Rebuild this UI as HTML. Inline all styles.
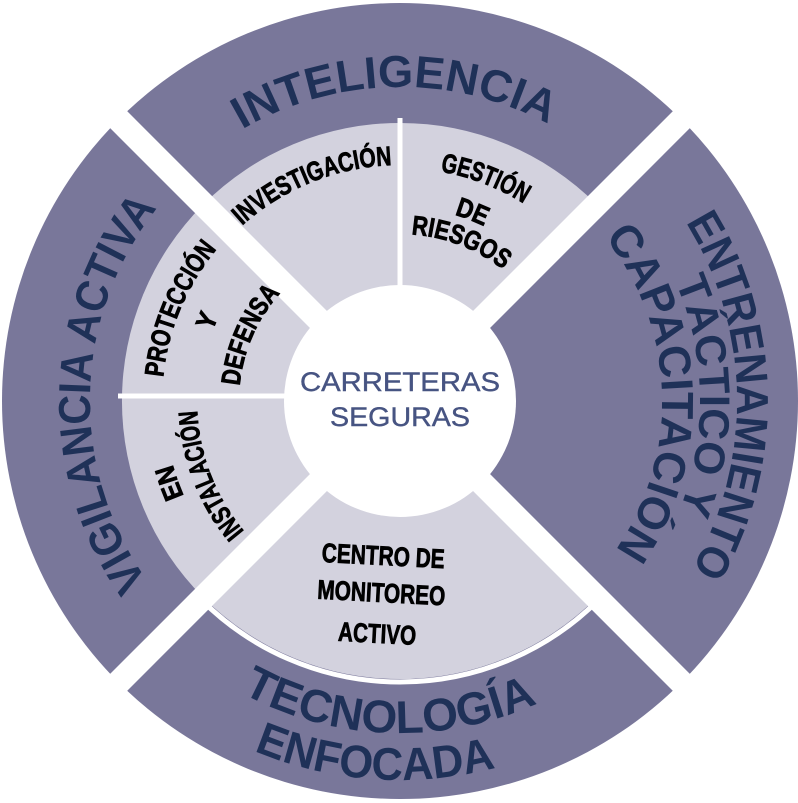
<!DOCTYPE html>
<html><head><meta charset="utf-8"><style>
html,body{margin:0;padding:0;background:#fff;}
svg{display:block;}
.o{font-family:"Liberation Sans",sans-serif;font-weight:bold;fill:#1f3158;font-size:45px;}
.i{font-family:"Liberation Sans",sans-serif;font-weight:bold;fill:#000;font-size:27px;stroke:#000;stroke-width:0.8;}
</style></head><body>
<svg width="798" height="803" viewBox="0 0 798 803" xmlns="http://www.w3.org/2000/svg">
<defs>
<path id="t314" d="M86,401 A314,314 0 0 1 714,401"/>
<path id="t310" d="M90,401 A310,310 0 0 1 710,401"/>
<path id="t337" d="M63,401 A337,337 0 0 1 737,401"/>
<path id="t300" d="M100,401 A300,300 0 0 1 700,401"/>
<path id="t262" d="M138,401 A262,262 0 0 1 662,401"/>
<path id="t236" d="M164,401 A236,236 0 0 1 636,401"/>
<path id="t233" d="M167,401 A233,233 0 0 1 633,401"/>
<path id="t194" d="M206,401 A194,194 0 0 1 594,401"/>
<path id="t167" d="M233,401 A167,167 0 0 1 567,401"/>
<path id="t238" d="M162,401 A238,238 0 0 1 638,401"/>
<path id="t200" d="M200,401 A200,200 0 0 1 600,401"/>
<path id="t161" d="M239,401 A161,161 0 0 1 561,401"/>
<path id="t203" d="M197,401 A203,203 0 0 1 603,401"/>
<path id="b332" d="M68,401 A332,332 0 0 0 732,401"/>
<path id="b379" d="M21,401 A379,379 0 0 0 779,401"/>
</defs>
<circle cx="400" cy="401" r="398" fill="#79779a"/>
<path d="M400,401 L203.4,204.4 A278,278 0 0 1 596.6,204.4 Z" fill="#d3d2de"/>
<path d="M400,401 L203.4,597.6 A278,278 0 0 1 203.4,204.4 Z" fill="#d3d2de"/>
<path d="M400,401 L596.6,597.6 A278,278 0 0 1 203.4,597.6 Z" fill="#d3d2de"/>
<path d="M598.7,599.7 A281,281 0 0 1 201.3,599.7" fill="none" stroke="#fff" stroke-width="5"/>
<line x1="400" y1="401" x2="400" y2="118" stroke="#fff" stroke-width="5"/>
<line x1="400" y1="396" x2="118" y2="396" stroke="#fff" stroke-width="5"/>
<line x1="100" y1="101" x2="700" y2="701" stroke="#fff" stroke-width="24"/>
<line x1="700" y1="101" x2="100" y2="701" stroke="#fff" stroke-width="24"/>
<circle cx="400" cy="401" r="116" fill="#fff"/>
<g transform="rotate(-1 400 401)"><text class="o"><textPath href="#t314" startOffset="50%" text-anchor="middle" textLength="320" lengthAdjust="spacingAndGlyphs">INTELIGENCIA</textPath></text></g>
<g transform="rotate(271.5 400 401)"><text class="o"><textPath href="#t310" startOffset="50%" text-anchor="middle" textLength="400" lengthAdjust="spacingAndGlyphs">VIGILANCIA ACTIVA</textPath></text></g>
<g transform="rotate(89 400 401)"><text class="o"><textPath href="#t337" startOffset="50%" text-anchor="middle" textLength="365" lengthAdjust="spacingAndGlyphs">ENTRENAMIENTO</textPath></text></g>
<g transform="rotate(89 400 401)"><text class="o" style="font-size:43px"><textPath href="#t300" startOffset="50%" text-anchor="middle" textLength="236" lengthAdjust="spacingAndGlyphs">TÁCTICO Y</textPath></text></g>
<g transform="rotate(88 400 401)"><text class="o"><textPath href="#t262" startOffset="50%" text-anchor="middle" textLength="336" lengthAdjust="spacingAndGlyphs">CAPACITACIÓN</textPath></text></g>
<g transform="rotate(2 400 401)"><text class="o" style="font-size:46px"><textPath href="#b332" startOffset="50%" text-anchor="middle" textLength="307" lengthAdjust="spacingAndGlyphs">TECNOLOGÍA</textPath></text></g>
<g transform="rotate(4 400 401)"><text class="o" style="font-size:46px"><textPath href="#b379" startOffset="50%" text-anchor="middle" textLength="247" lengthAdjust="spacingAndGlyphs">ENFOCADA</textPath></text></g>
<g transform="rotate(-22 400 401)"><text class="i"><textPath href="#t236" startOffset="50%" text-anchor="middle" textLength="165" lengthAdjust="spacingAndGlyphs">INVESTIGACIÓN</textPath></text></g>
<g transform="rotate(21 400 401)"><text class="i"><textPath href="#t233" startOffset="50%" text-anchor="middle" textLength="90" lengthAdjust="spacingAndGlyphs">GESTIÓN</textPath></text></g>
<g transform="rotate(21 400 401)"><text class="i"><textPath href="#t194" startOffset="50%" text-anchor="middle" textLength="32" lengthAdjust="spacingAndGlyphs">DE</textPath></text></g>
<g transform="rotate(21 400 401)"><text class="i"><textPath href="#t167" startOffset="50%" text-anchor="middle" textLength="100" lengthAdjust="spacingAndGlyphs">RIESGOS</textPath></text></g>
<g transform="rotate(292.7 400 401)"><text class="i"><textPath href="#t238" startOffset="50%" text-anchor="middle" textLength="141" lengthAdjust="spacingAndGlyphs">PROTECCIÓN</textPath></text></g>
<g transform="rotate(292.6 400 401)"><text class="i"><textPath href="#t200" startOffset="50%" text-anchor="middle" textLength="16" lengthAdjust="spacingAndGlyphs">Y</textPath></text></g>
<g transform="rotate(293.7 400 401)"><text class="i"><textPath href="#t161" startOffset="50%" text-anchor="middle" textLength="103" lengthAdjust="spacingAndGlyphs">DEFENSA</textPath></text></g>
<g transform="rotate(250.4 400 401)"><text class="i"><textPath href="#t236" startOffset="50%" text-anchor="middle" textLength="34" lengthAdjust="spacingAndGlyphs">EN</textPath></text></g>
<g transform="rotate(248.7 400 401)"><text class="i"><textPath href="#t203" startOffset="50%" text-anchor="middle" textLength="132" lengthAdjust="spacingAndGlyphs">INSTALACIÓN</textPath></text></g>
<g transform="rotate(3 400 600)">
<text class="i" x="381" y="566" text-anchor="middle" textLength="123" lengthAdjust="spacingAndGlyphs">CENTRO DE</text>
<text class="i" x="381" y="603" text-anchor="middle" textLength="128" lengthAdjust="spacingAndGlyphs">MONITOREO</text>
<text class="i" x="379" y="644" text-anchor="middle" textLength="78" lengthAdjust="spacingAndGlyphs">ACTIVO</text>
</g>
<text x="400" y="391" text-anchor="middle" font-family="Liberation Sans, sans-serif" font-size="27" fill="#475482" stroke="#475482" stroke-width="0.4" textLength="200" lengthAdjust="spacingAndGlyphs">CARRETERAS</text>
<text x="400" y="426" text-anchor="middle" font-family="Liberation Sans, sans-serif" font-size="27" fill="#475482" stroke="#475482" stroke-width="0.4" textLength="140" lengthAdjust="spacingAndGlyphs">SEGURAS</text>
</svg>
</body></html>
